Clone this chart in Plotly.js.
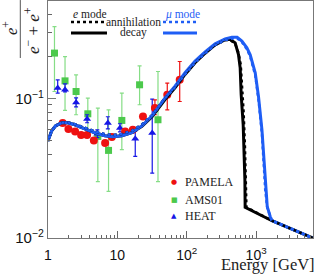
<!DOCTYPE html>
<html><head><meta charset="utf-8">
<script src="https://cdn.plot.ly/plotly-3.0.1.min.js"></script>
<style>html,body{margin:0;padding:0;background:#fff}#c{width:316px;height:275px}</style>
</head><body><div id="c"></div>
<script>
// ---- data ----
const pamE=[1.63,1.97,2.46,3.0,3.66,4.58,6.66,8.33,12.96,16.7,23.4,34.8,52.4,79.2];
const pamF=[0.0668,0.0605,0.0581,0.0548,0.0548,0.0501,0.048,0.053,0.0581,0.0597,0.0744,0.0855,0.1065,0.1364];
const pamHi=[0.0668,0.0605,0.0581,0.0548,0.0548,0.0501,0.048,0.053,0.0600,0.0615,0.0770,0.098,0.1292,0.1845];
const pamLo=[0.0668,0.0605,0.0581,0.0548,0.0548,0.0501,0.048,0.053,0.0565,0.0580,0.0720,0.0766,0.0831,0.0953];

const amsE=[1.24,1.76,2.54,3.75,5.23,7.46,11.6,20.9,38.5];
const amsF=[0.212,0.134,0.1124,0.0778,0.0535,0.0425,0.0697,0.1256,0.0705];
const amsHi=[0.3287,0.2003,0.148,0.1008,0.0855,0.0831,0.1095,0.1718,0.1564];
const amsLo=[0.1124,0.0822,0.0766,0.055,0.0254,0.0216,0.043,0.0903,0.0254];

const heatE=[1.38,1.76,2.54,3.66,5.14,7.29,10.9,18.1,31.8];
const heatF=[0.119,0.1156,0.0938,0.0713,0.0559,0.0668,0.0614,0.0515,0.0566];
const heatHi=[0.1364,0.1277,0.1013,0.0766,0.0597,0.0741,0.066,0.0581,0.0992];
const heatLo=[0.1095,0.1119,0.0873,0.0671,0.0524,0.0607,0.0578,0.0385,0.0292];

const eDecE=[1,1.13,1.29,1.58,1.93,2.44,3.39,4.73,6.6,8.6,11.6,16.2,22.6,31.6,48.6,67.7,94.5,131.8,183.9,256.5,357.7,420,499,557,589,609,651,673,689,695,1691,6577];
const eDecF=[0.0498,0.0588,0.0638,0.0671,0.0671,0.0649,0.0607,0.0569,0.0541,0.0532,0.0541,0.0569,0.0632,0.0740,0.0985,0.1195,0.1490,0.1810,0.2115,0.2425,0.2650,0.2665,0.2512,0.2071,0.1663,0.107,0.0649,0.043,0.0262,0.0166,0.0133,0.01];

const eAnnE=[1,1.13,1.29,1.58,1.93,2.44,3.39,4.73,6.6,8.6,11.6,16.2,22.6,31.6,48.6,67.7,94.5,131.8,183.9,256.5,357.7,420,499,557,600,630,660,690,712,725,1691,6577];
const eAnnF=[0.0495,0.0585,0.0636,0.0672,0.0675,0.0656,0.0618,0.0582,0.0556,0.0548,0.0558,0.0587,0.0652,0.0762,0.1005,0.1205,0.1495,0.1815,0.2115,0.2425,0.2625,0.2635,0.2475,0.213,0.175,0.125,0.08,0.045,0.025,0.0166,0.0133,0.01];

const muDecE=[1,1.13,1.29,1.58,1.93,2.44,3.39,4.73,6.6,8.6,11.6,16.2,22.6,31.6,48.6,67.7,94.5,131.8,183.9,256.5,357.7,447,533,623.5,736,822,971,1083,1213,1280,1355,1447,1600,1691,6577];
const muDecF=[0.0498,0.0588,0.0638,0.0671,0.0671,0.0649,0.0607,0.0569,0.0541,0.0532,0.0541,0.0569,0.0638,0.0753,0.1013,0.1229,0.1531,0.1857,0.2165,0.2471,0.2684,0.2751,0.2755,0.2584,0.2313,0.206,0.153,0.103,0.0598,0.0409,0.0233,0.0168,0.0142,0.0133,0.01];

const muAnnE=[1,1.13,1.29,1.58,1.93,2.44,3.39,4.73,6.6,8.6,11.6,16.2,22.6,31.6,48.6,67.7,94.5,131.8,183.9,256.5,357.7,447,533,623.5,736,822,971,1083,1213,1280,1355,1447,1600,1691,6577];
const muAnnF=[0.0495,0.0585,0.0636,0.0672,0.0675,0.0656,0.0618,0.0582,0.0556,0.0548,0.0558,0.0587,0.0652,0.0762,0.1005,0.1205,0.1495,0.1815,0.2115,0.2425,0.2625,0.270,0.2705,0.254,0.226,0.2,0.147,0.098,0.056,0.038,0.022,0.0165,0.0142,0.0133,0.01];

const xTickVals=[1,10,100,1000];
const xTickText=['1','10','10<sup>2</sup>','10<sup>3</sup>'];
const yTickVals=[0.01,0.1];
const yTickText=['10<sup>−2</sup>','10<sup>−1</sup>'];

// ---- build ----
const up=(hi,f)=>hi.map((h,i)=>h-f[i]);
const dn=(lo,f)=>lo.map((l,i)=>f[i]-l);
const RED='#ee1111', GREEN='#4cc94c', GREENBAR='#86dd86', HBLUE='#1616e6', BLUE='#1f5ef5';

const xMinor=[]; for(let d=0;d<4;d++){for(let k=2;k<=9;k++){const v=k*Math.pow(10,d); if(v<6600) xMinor.push(v);}}
const yMinor=[]; for(let k=2;k<=9;k++) yMinor.push(k*0.01); for(let k=2;k<=4;k++) yMinor.push(k*0.1);

const traces=[
 {x:amsE,y:amsF,type:'scatter',mode:'markers',marker:{symbol:'square',size:7,color:GREEN},
  error_y:{type:'data',symmetric:false,array:up(amsHi,amsF),arrayminus:dn(amsLo,amsF),color:GREENBAR,thickness:1.2,width:2}},
 {x:heatE,y:heatF,type:'scatter',mode:'markers',marker:{symbol:'triangle-up',size:7,color:HBLUE},
  error_y:{type:'data',symmetric:false,array:up(heatHi,heatF),arrayminus:dn(heatLo,heatF),color:HBLUE,thickness:1.2,width:2}},
 {x:pamE,y:pamF,type:'scatter',mode:'markers',marker:{symbol:'circle',size:8,color:RED},
  error_y:{type:'data',symmetric:false,array:up(pamHi,pamF),arrayminus:dn(pamLo,pamF),color:RED,thickness:1.2,width:2}},
 {x:eDecE,y:eDecF,type:'scatter',mode:'lines',line:{color:'#000',width:3}},
 {x:muDecE,y:muDecF,type:'scatter',mode:'lines',line:{color:BLUE,width:3}},
 {x:eAnnE,y:eAnnF,type:'scatter',mode:'lines',line:{color:'#000',width:2.5,dash:'dot'}},
 {x:muAnnE,y:muAnnF,type:'scatter',mode:'lines',line:{color:BLUE,width:2.5,dash:'dot'}}
];

const serif='Liberation Serif, Times New Roman, serif';
const ann=(x,y,text,opt)=>Object.assign({xref:'paper',yref:'paper',x:x,y:y,text:text,showarrow:false,
  xanchor:'center',yanchor:'middle',font:{family:serif,size:11.5,color:'#222'}},opt||{});

const layout={
 width:316,height:275,margin:{l:48,r:3,t:1,b:37},
 paper_bgcolor:'#fff',plot_bgcolor:'#fff',showlegend:false,
 xaxis:{type:'log',range:[0,3.82],tickvals:xTickVals,ticktext:xTickText,ticks:'inside',ticklen:7,tickcolor:'#666',
   ticklabelstandoff:4,
   showline:true,linecolor:'#777',linewidth:1.2,mirror:true,showgrid:false,zeroline:false,
   tickfont:{family:'Liberation Sans, Arial, sans-serif',size:14,color:'#111'},
   minor:{tickvals:xMinor,ticks:'inside',ticklen:3.5,tickcolor:'#666',showgrid:false}},
 yaxis:{type:'log',range:[-2,-0.3],tickvals:yTickVals,ticktext:yTickText,ticks:'inside',ticklen:8,tickcolor:'#777',
   showline:true,linecolor:'#777',linewidth:1.2,mirror:true,showgrid:false,zeroline:false,
   tickfont:{family:'Liberation Sans, Arial, sans-serif',size:15,color:'#111'},
   minor:{tickvals:yMinor,ticks:'inside',ticklen:4,tickcolor:'#666',showgrid:false}},
 shapes:[
  {type:'line',xref:'paper',yref:'paper',x0:0.0868,x1:0.2226,y0:0.9114,y1:0.9114,line:{color:'#000',width:2.5,dash:'dot'}},
  {type:'line',xref:'paper',yref:'paper',x0:0.0868,x1:0.2226,y0:0.865,y1:0.865,line:{color:'#000',width:3}},
  {type:'line',xref:'paper',yref:'paper',x0:0.434,x1:0.5623,y0:0.9114,y1:0.9114,line:{color:BLUE,width:2.5,dash:'dot'}},
  {type:'line',xref:'paper',yref:'paper',x0:0.434,x1:0.5623,y0:0.865,y1:0.865,line:{color:BLUE,width:3}},
  {type:'line',xref:'paper',yref:'paper',x0:-0.1045,x1:-0.1045,y0:1.004,y1:0.7595,line:{color:'#555',width:1}}
 ],
 annotations:[
  ann(0.1585,0.945,'<i>e</i> mode'),
  ann(0.3245,0.9114,'annihilation'),
  ann(0.3245,0.865,'decay'),
  ann(0.5075,0.945,'<i>μ</i> mode',{font:{family:serif,size:11.5,color:BLUE}}),
  ann(0.4755,0.2363,'●',{font:{family:'DejaVu Sans',size:7,color:RED}}),
  ann(0.4755,0.1603,'■',{font:{family:'DejaVu Sans',size:7,color:GREEN}}),
  ann(0.4755,0.0928,'▲',{font:{family:'DejaVu Sans',size:7,color:HBLUE}}),
  ann(0.5094,0.2363,'PAMELA',{xanchor:'left',font:{family:serif,size:12,color:'#222'}}),
  ann(0.5094,0.1603,'AMS01',{xanchor:'left',font:{family:serif,size:12,color:'#222'}}),
  ann(0.5094,0.0928,'HEAT',{xanchor:'left',font:{family:serif,size:12,color:'#222'}}),
  ann(1.0113,-0.1555,'Energy [GeV]',{xanchor:'right',yanchor:'bottom',borderpad:0,font:{family:serif,size:16.5,color:'#222'}}),
  ann(-0.1434,0.886,'<i>e</i><sup>+</sup>',{textangle:-90,borderpad:0,font:{family:serif,size:16.5,color:'#222'}}),
  ann(-0.0604,0.8776,'<i>e</i><sup>−</sup> + <i>e</i><sup>+</sup>',{textangle:-90,font:{family:serif,size:17,color:'#222'}})
 ]
};
Plotly.newPlot('c',traces,layout,{staticPlot:true,displayModeBar:false});
</script></body></html>
